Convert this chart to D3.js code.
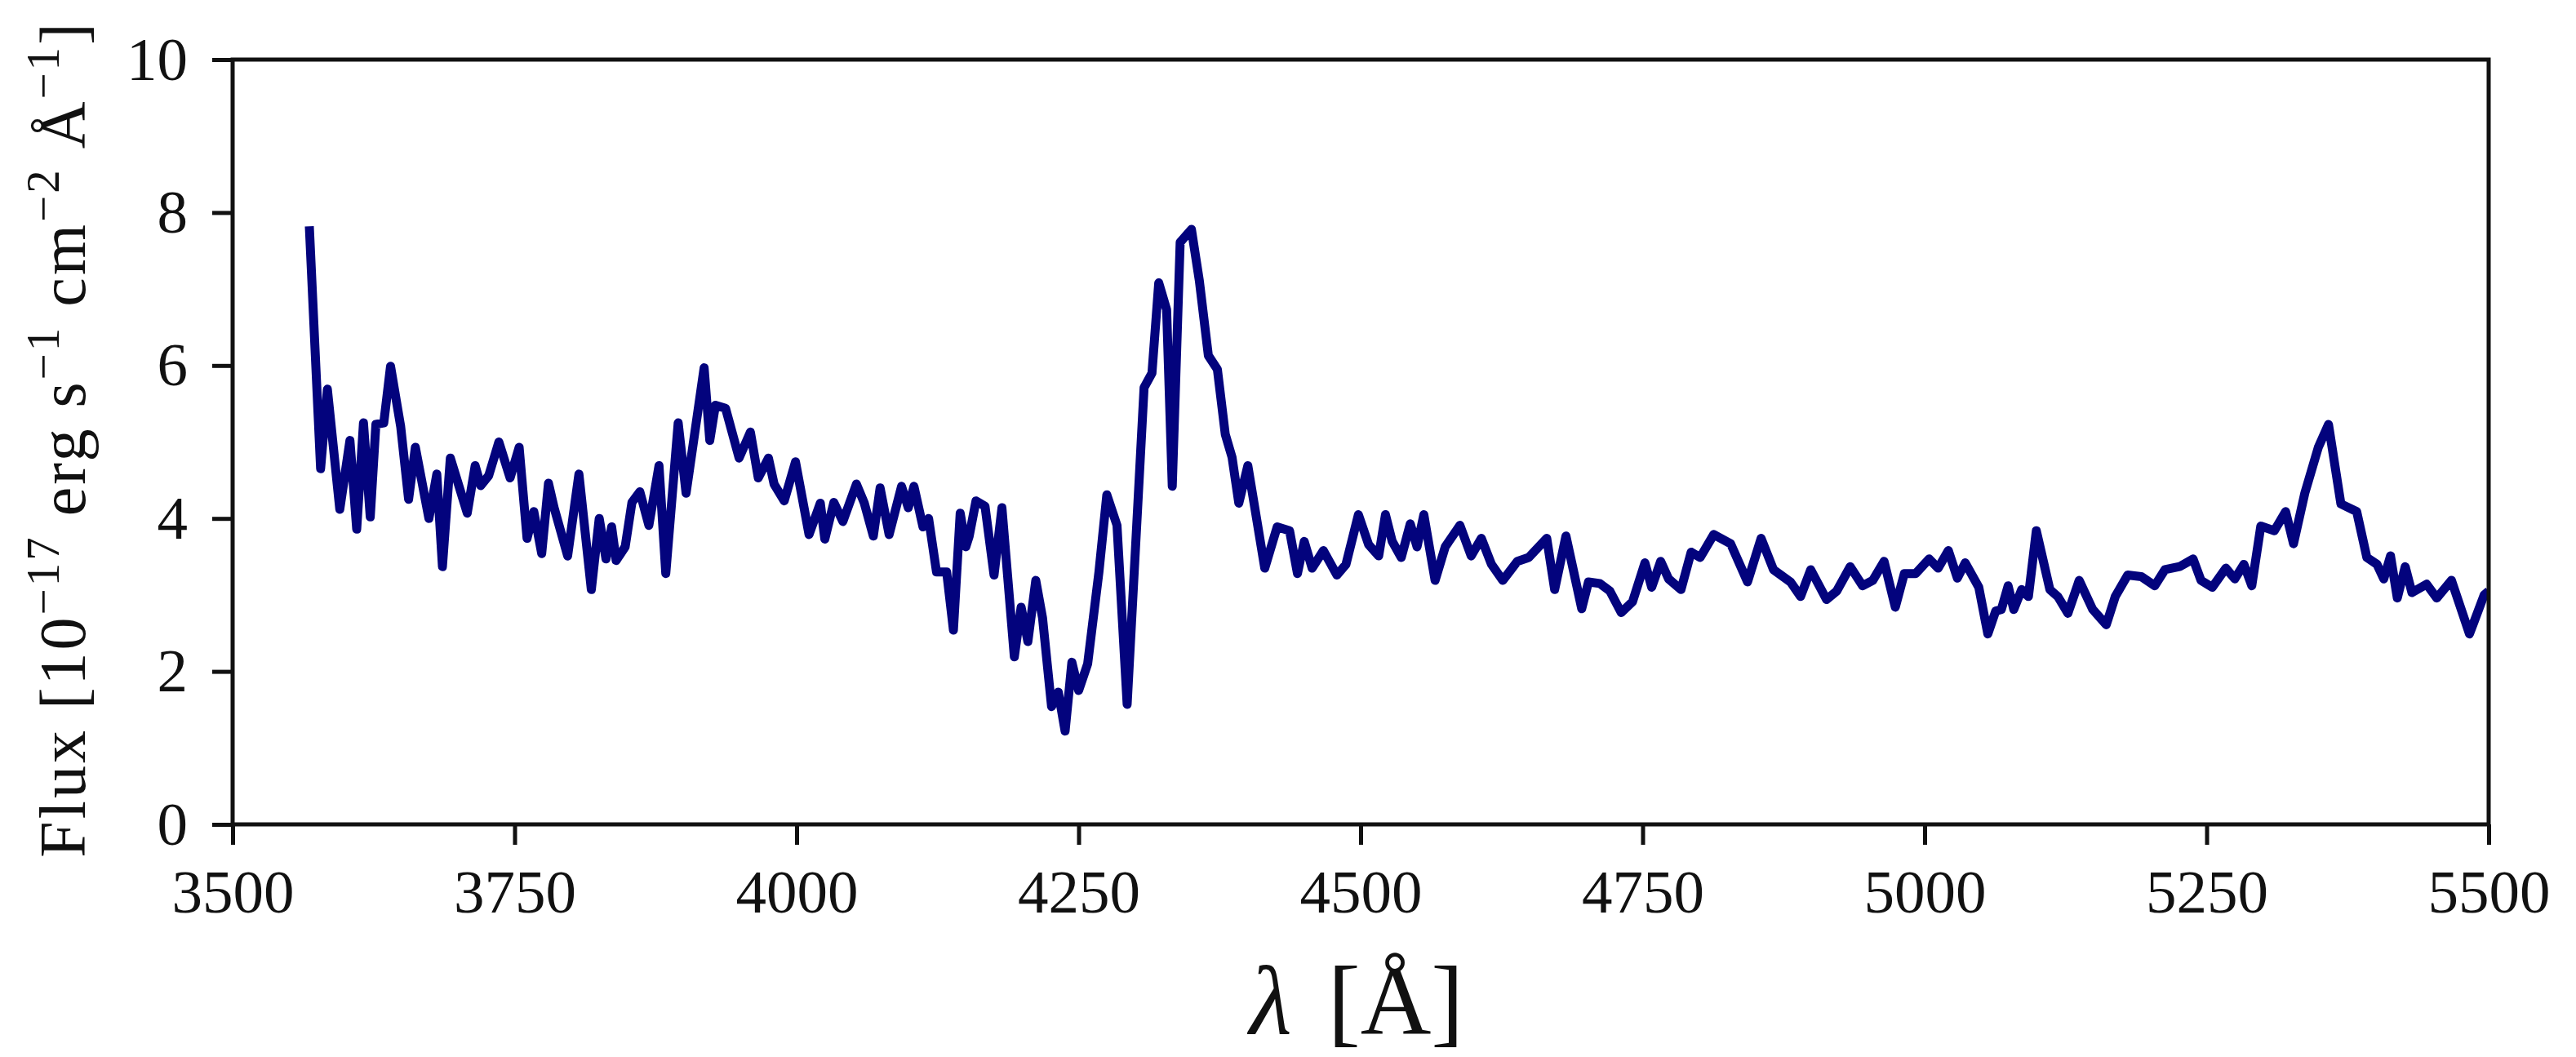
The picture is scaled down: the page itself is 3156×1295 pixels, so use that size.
<!DOCTYPE html>
<html>
<head>
<meta charset="utf-8">
<script src="https://cdn.jsdelivr.net/npm/d3@7"></script>
<style>
  body { margin: 0; background: #fff; }
  svg { display: block; }
</style>
</head>
<body>
<svg id="chart" width="3156" height="1295"></svg>
<script>
// spectrum
const wavelength = [
  3568, 3578, 3584, 3595, 3604, 3610, 3616, 3622, 3627, 3634, 3640, 3649, 3656, 3662, 3674,
  3681, 3686, 3693, 3708, 3715, 3720, 3727, 3736, 3746, 3754, 3761, 3767, 3774, 3780, 3785,
  3797, 3807, 3818, 3825, 3831, 3836, 3840, 3848, 3854, 3861, 3869, 3878, 3884, 3895, 3902,
  3918, 3923, 3928, 3937, 3949, 3959, 3966, 3975, 3980, 3989, 3999, 4011, 4021, 4025, 4033,
  4041, 4053, 4060, 4068, 4074, 4082, 4093, 4099, 4104, 4112, 4117, 4124, 4133, 4139, 4145,
  4150, 4153, 4159, 4167, 4175, 4182, 4193, 4199, 4205, 4212, 4218, 4226, 4232, 4238, 4244,
  4250, 4258, 4268, 4275, 4284, 4293, 4308, 4315, 4321, 4328, 4333, 4340, 4350, 4357, 4365,
  4373, 4380, 4386, 4392, 4400, 4415, 4426, 4437, 4444, 4450, 4457, 4467, 4479, 4487, 4498,
  4507, 4516, 4522, 4528, 4536, 4544, 4550, 4556, 4566, 4575, 4588, 4598, 4607, 4616, 4626,
  4639, 4649, 4665, 4672, 4682, 4696, 4702, 4712, 4721, 4731, 4741, 4752, 4758, 4766, 4773,
  4784, 4793, 4801, 4813, 4828, 4843, 4855, 4866, 4881, 4890, 4899, 4913, 4922, 4934, 4945,
  4954, 4964, 4974, 4982, 4992, 5004, 5012, 5021, 5029, 5036, 5048, 5056, 5063, 5068, 5074,
  5079, 5086, 5092, 5099, 5111, 5118, 5127, 5137, 5149, 5161, 5169, 5180, 5192, 5204, 5213,
  5226, 5238, 5245, 5255, 5267, 5275, 5283, 5290, 5298, 5310, 5320, 5327, 5337, 5349, 5358,
  5369, 5383, 5392, 5401, 5407, 5413, 5419, 5426, 5432, 5445, 5454, 5467, 5483, 5496, 5500
]
const flux = [
  7.82, 4.65, 5.69, 4.12, 5.02, 3.86, 5.25, 4.02, 5.23, 5.25, 5.99, 5.20, 4.25, 4.93, 4.00,
  4.58, 3.37, 4.79, 4.07, 4.69, 4.43, 4.56, 5.00, 4.53, 4.93, 3.74, 4.09, 3.54, 4.46, 4.14,
  3.51, 4.58, 3.07, 4.00, 3.47, 3.89, 3.45, 3.63, 4.21, 4.35, 3.91, 4.69, 3.28, 5.25, 4.33,
  5.97, 5.02, 5.48, 5.44, 4.79, 5.13, 4.53, 4.79, 4.45, 4.23, 4.74, 3.79, 4.20, 3.73, 4.21,
  3.96, 4.45, 4.20, 3.77, 4.40, 3.79, 4.42, 4.14, 4.42, 3.89, 4.00, 3.30, 3.30, 2.54, 4.07,
  3.63, 3.77, 4.23, 4.16, 3.26, 4.14, 2.19, 2.84, 2.39, 3.19, 2.70, 1.54, 1.73, 1.22, 2.12,
  1.75, 2.10, 3.30, 4.31, 3.91, 1.57, 5.71, 5.90, 7.08, 6.73, 4.42, 7.61, 7.78, 7.11, 6.13,
  5.95, 5.10, 4.80, 4.20, 4.69, 3.35, 3.89, 3.84, 3.28, 3.70, 3.35, 3.58, 3.26, 3.40, 4.05,
  3.66, 3.51, 4.05, 3.70, 3.49, 3.93, 3.63, 4.05, 3.19, 3.63, 3.91, 3.51, 3.74, 3.40, 3.19,
  3.44, 3.49, 3.74, 3.07, 3.77, 2.82, 3.17, 3.15, 3.05, 2.77, 2.91, 3.42, 3.10, 3.44, 3.21,
  3.07, 3.56, 3.49, 3.79, 3.67, 3.17, 3.74, 3.33, 3.17, 2.98, 3.33, 2.94, 3.05, 3.37, 3.12,
  3.19, 3.44, 2.84, 3.28, 3.28, 3.47, 3.35, 3.58, 3.22, 3.42, 3.10, 2.49, 2.79, 2.81, 3.12,
  2.81, 3.07, 2.98, 3.84, 3.07, 2.98, 2.76, 3.19, 2.81, 2.61, 2.98, 3.26, 3.24, 3.12, 3.33,
  3.37, 3.47, 3.19, 3.10, 3.35, 3.21, 3.40, 3.12, 3.90, 3.84, 4.09, 3.67, 4.33, 4.93, 5.23,
  4.19, 4.09, 3.49, 3.40, 3.21, 3.51, 2.96, 3.37, 3.03, 3.14, 2.96, 3.19, 2.49, 3.00, 3.05
]
const xTicks = [3500, 3750, 4000, 4250, 4500, 4750, 5000, 5250, 5500]
const yTicks = [0, 2, 4, 6, 8, 10]

const margin = {top: 73, right: 107, bottom: 285, left: 285}
const width = 3156 - margin.left - margin.right
const height = 1295 - margin.top - margin.bottom
const font = "'Liberation Serif', 'DejaVu Serif', serif"

const svg = d3.select("#chart")
svg.append("rect").attr("width", 3156).attr("height", 1295).attr("fill", "white")

const g = svg.append("g")
  .attr("transform", `translate(${margin.left},${margin.top})`)

const x = d3.scaleLinear().domain([3500, 5500]).range([0, width])
const y = d3.scaleLinear().domain([0, 10]).range([height, 0])

g.append("clipPath").attr("id", "plot-clip")
  .append("rect").attr("width", width).attr("height", height)

const data = wavelength.map((w, i) => [w, flux[i]])

const line = d3.line()
  .x(d => x(d[0]))
  .y(d => y(d[1]))

g.append("path")
  .datum(data)
  .attr("clip-path", "url(#plot-clip)")
  .attr("fill", "none")
  .attr("stroke", "#03037d")
  .attr("stroke-width", 11)
  .attr("stroke-linejoin", "round")
  .attr("stroke-linecap", "butt")
  .attr("d", line)

// x axis
const xAxis = g.append("g")
  .attr("transform", `translate(0,${height})`)
  .call(d3.axisBottom(x).tickValues(xTicks).tickSize(25).tickSizeOuter(0).tickPadding(30).tickFormat(d3.format("d")))
xAxis.select(".domain").remove()
xAxis.selectAll(".tick line").attr("stroke", "#111").attr("stroke-width", 5)
xAxis.selectAll("text")
  .attr("font-family", font)
  .attr("font-size", 75)
  .attr("fill", "#111")

// y axis
const yAxis = g.append("g")
  .call(d3.axisLeft(y).tickValues(yTicks).tickSize(25).tickSizeOuter(0).tickPadding(30))
yAxis.select(".domain").remove()
yAxis.selectAll(".tick line").attr("stroke", "#111").attr("stroke-width", 5)
yAxis.selectAll("text")
  .attr("font-family", font)
  .attr("font-size", 75)
  .attr("fill", "#111")

// frame
g.append("rect")
  .attr("width", width)
  .attr("height", height)
  .attr("fill", "none")
  .attr("stroke", "#111")
  .attr("stroke-width", 5)

// x label
const xl = svg.append("text")
  .attr("x", 1662)
  .attr("y", 1267)
  .attr("text-anchor", "middle")
  .attr("font-family", font)
  .attr("font-size", 120)
  .attr("fill", "#111")
xl.append("tspan").attr("font-style", "italic").text("λ")
xl.append("tspan").attr("dx", 14).text(" [Å]")

// y label with superscripts
const yl = svg.append("text")
  .attr("transform", "translate(104,538) rotate(-90)")
  .attr("text-anchor", "middle")
  .attr("font-family", font)
  .attr("font-size", 80)
  .attr("letter-spacing", 3)
  .attr("fill", "#111")
const parts = [["Flux [10", false], ["−17", true], [" erg s", false], ["−1", true],
  [" cm", false], ["−2", true], [" Å", false], ["−1", true], ["]", false]]
parts.forEach(p => {
  const t = yl.append("tspan").text(p[0])
  if (p[1]) t.attr("font-size", 57).attr("dy", -32)
  else t.attr("dy", yl.selectAll("tspan").size() > 1 ? 32 : 0)
})
</script>
</body>
</html>
